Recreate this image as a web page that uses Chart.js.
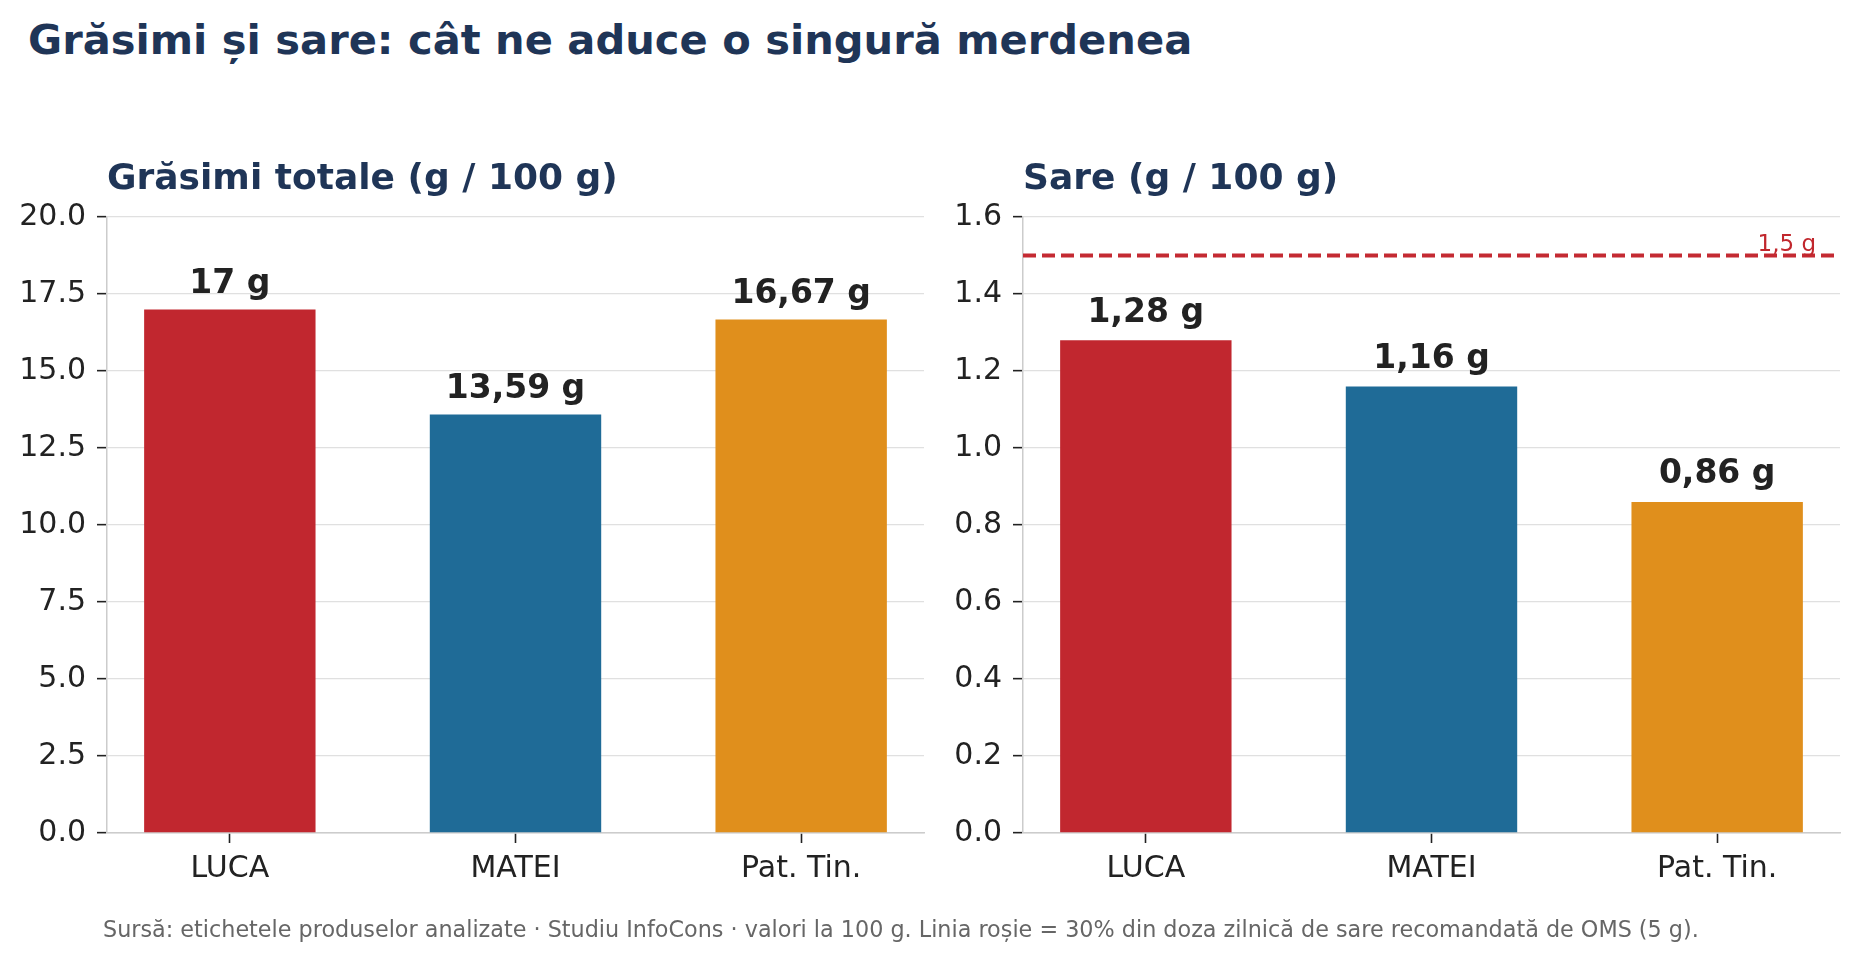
<!DOCTYPE html>
<html>
<head>
<meta charset="utf-8">
<script src="https://cdn.jsdelivr.net/npm/chart.js@4.4.1/dist/chart.umd.min.js"></script>
<style>
  html, body { margin: 0; padding: 0; background: #ffffff; }
  body { width: 1859px; height: 960px; position: relative; overflow: hidden; font-family: "DejaVu Sans", sans-serif; }
  #title { position: absolute; left: 28px; top: 19px; font-size: 41.6px; line-height: 41.6px; font-weight: bold; color: #1f3557; white-space: nowrap; }
  #footer { position: absolute; left: 103px; top: 918px; font-size: 22.3px; line-height: 22.3px; color: #666666; white-space: nowrap; }
  .box { position: absolute; top: 0; height: 960px; }
  #box1 { left: 0; width: 940px; }
  #box2 { left: 940px; width: 919px; }
</style>
</head>
<body>
<div id="title">Grăsimi și sare: cât ne aduce o singură merdenea</div>
<div class="box" id="box1"><canvas id="c1"></canvas></div>
<div class="box" id="box2"><canvas id="c2"></canvas></div>
<div id="footer">Sursă: etichetele produselor analizate · Studiu InfoCons · valori la 100 g. Linia roșie = 30% din doza zilnică de sare recomandată de OMS (5 g).</div>
<script>
// ---- data ----
const categories = ['LUCA', 'MATEI', 'Pat. Tin.'];
const fatValues = [17, 13.59, 16.67];
const saltValues = [1.28, 1.16, 0.86];
const saltLimit = 1.5;
const saltLimitLabel = '1,5 g';
const fatTitle = 'Grăsimi totale (g / 100 g)';
const saltTitle = 'Sare (g / 100 g)';
const barColors = ['#c1272f', '#1f6b97', '#e08f1c'];
const fatAxis = { min: 0, max: 20, step: 2.5 };
const saltAxis = { min: 0, max: 1.6, step: 0.2 };

const FONT = '"DejaVu Sans", sans-serif';
const TEXT = '#222222';

function fmtValue(v) { return String(v).replace('.', ',') + ' g'; }

const valueLabels = {
  id: 'valueLabels',
  afterDatasetsDraw(chart, args, opts) {
    const ctx = chart.ctx;
    const meta = chart.getDatasetMeta(0);
    ctx.save();
    ctx.font = 'bold 33px ' + FONT;
    ctx.fillStyle = TEXT;
    ctx.textAlign = 'center';
    ctx.textBaseline = 'alphabetic';
    meta.data.forEach((el, i) => {
      const v = chart.data.datasets[0].data[i].y;
      ctx.fillText(fmtValue(v), el.x, el.y - opts.offset);
    });
    ctx.restore();
  }
};

const panelTitle = {
  id: 'panelTitle',
  afterDraw(chart, args, opts) {
    const ctx = chart.ctx;
    ctx.save();
    ctx.font = 'bold 36px ' + FONT;
    ctx.fillStyle = '#1f3557';
    ctx.textAlign = 'left';
    ctx.textBaseline = 'alphabetic';
    ctx.fillText(opts.text, chart.chartArea.left, opts.baseline);
    ctx.restore();
  }
};

const limitLine = {
  id: 'limitLine',
  afterDatasetsDraw(chart, args, opts) {
    if (!opts || opts.value === undefined) return;
    const ctx = chart.ctx;
    const y = chart.scales.y.getPixelForValue(opts.value);
    const a = chart.chartArea;
    ctx.save();
    ctx.strokeStyle = '#c42a32';
    ctx.lineWidth = 4;
    ctx.setLineDash([13, 6]);
    ctx.beginPath();
    ctx.moveTo(a.left, y);
    ctx.lineTo(a.right, y);
    ctx.stroke();
    ctx.setLineDash([]);
    ctx.font = '23px ' + FONT;
    ctx.fillStyle = '#c1272d';
    ctx.textAlign = 'right';
    ctx.textBaseline = 'alphabetic';
    ctx.fillText(opts.label, a.right - 24, y - 5);
    ctx.restore();
  }
};

function makeChart(canvasId, values, axis, yWidth, padRight, title, labelOffset, limit) {
  const data = values.map((v, i) => ({ x: i, y: v }));
  return new Chart(document.getElementById(canvasId), {
    type: 'bar',
    data: {
      datasets: [{
        data: data,
        backgroundColor: barColors,
        borderWidth: 0,
        barPercentage: 0.6,
        categoryPercentage: 1.0
      }]
    },
    options: {
      responsive: true,
      maintainAspectRatio: false,
      animation: false,
      layout: { padding: { top: 217, left: 0, right: padRight, bottom: 0 } },
      plugins: {
        legend: { display: false },
        tooltip: { enabled: false },
        title: { display: false },
        panelTitle: { text: title, baseline: 189 },
        valueLabels: { offset: labelOffset },
        limitLine: limit
      },
      scales: {
        x: {
          type: 'linear',
          offset: false,
          min: -0.43,
          max: categories.length - 1 + 0.43,
          afterBuildTicks(scale) { scale.ticks = categories.map((c, i) => ({ value: i })); },
          afterFit(scale) { scale.height = 127; },
          border: { display: true, color: '#cccccc', width: 1.5 },
          grid: { offset: false, drawOnChartArea: false, drawTicks: true, tickLength: 10, tickColor: '#222222', tickWidth: 1.6 },
          ticks: {
            autoSkip: false,
            maxRotation: 0,
            padding: 8,
            color: TEXT,
            font: { family: FONT, size: 30 },
            callback: (v) => categories[v]
          }
        },
        y: {
          min: axis.min,
          max: axis.max,
          afterFit(scale) { scale.width = yWidth; },
          border: { display: true, color: '#cccccc', width: 1.5 },
          grid: { color: '#e0e0e0', lineWidth: 1.3, drawTicks: true, tickLength: 10, tickColor: '#222222', tickWidth: 1.6 },
          ticks: {
            stepSize: axis.step,
            padding: 11,
            color: TEXT,
            font: { family: FONT, size: 30 },
            callback: (v) => Number(v).toFixed(1)
          }
        }
      }
    },
    plugins: [valueLabels, panelTitle, limitLine]
  });
}

makeChart('c1', fatValues, fatAxis, 107, 16, fatTitle, 16.5, undefined);
makeChart('c2', saltValues, saltAxis, 83, 19, saltTitle, 18.5, { value: saltLimit, label: saltLimitLabel });
</script>
</body>
</html>
